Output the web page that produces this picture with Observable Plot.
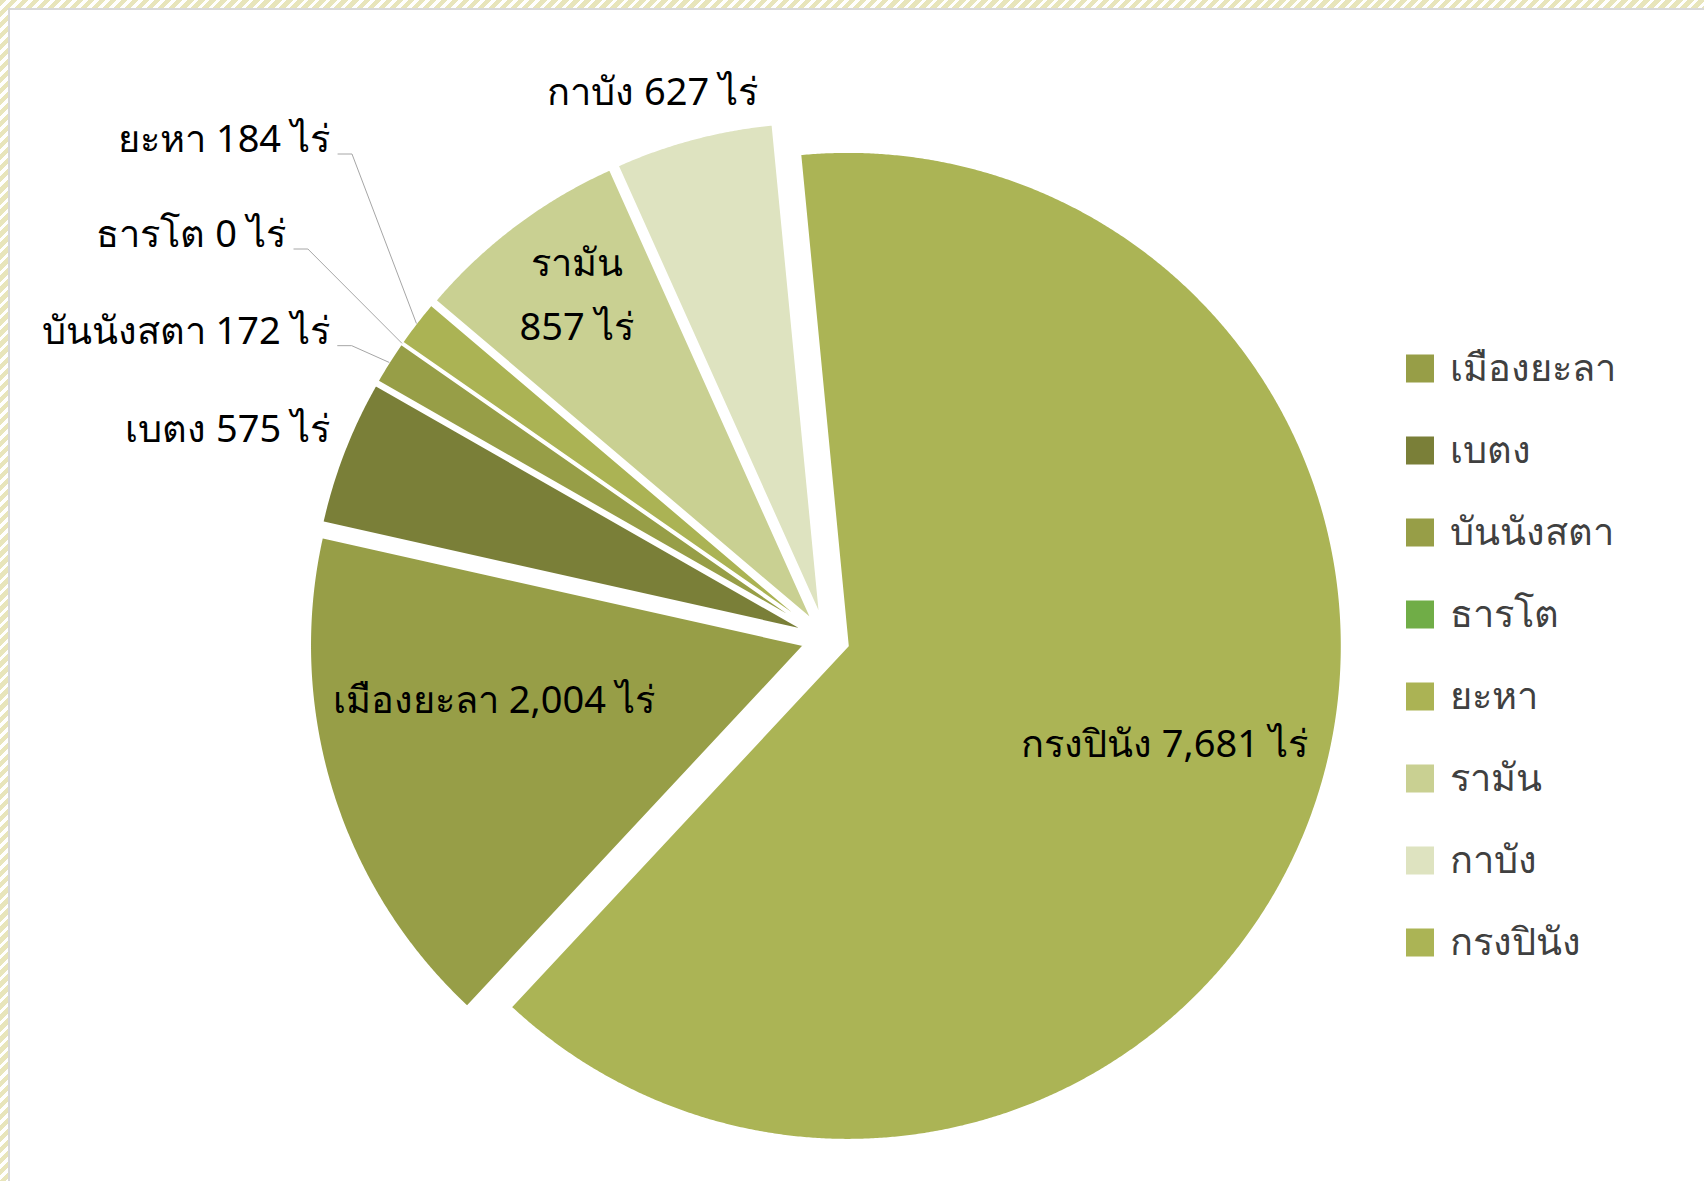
<!DOCTYPE html>
<html>
<head>
<meta charset="utf-8">
<script src="https://cdn.jsdelivr.net/npm/d3@7"></script>
<script src="https://cdn.jsdelivr.net/npm/@observablehq/plot@0.6"></script>
<style>
  html, body { margin: 0; padding: 0; background: #fff; }
  #wrap { position: relative; width: 1704px; height: 1181px; overflow: hidden; background: #fff; font-family: "Noto Sans", sans-serif; }
  #chart, #legend { position: absolute; }
  #chart { left: 0; top: 0; }
  #legend { left: 1390px; top: 325px; }
  .stripeTop { position: absolute; left: 0; top: 0; width: 1704px; height: 8px;
    background: repeating-linear-gradient(135deg, #e8e5bb 0 4.6px, #ffffff 4.6px 7.8px); }
  .stripeLeft { position: absolute; left: 0; top: 0; width: 8px; height: 1181px;
    background: repeating-linear-gradient(135deg, #e8e5bb 0 4.6px, #ffffff 4.6px 7.8px); }
  .lineTop { position: absolute; left: 8px; top: 8px; width: 1696px; height: 2px; background: #d9d9d9; }
  .lineLeft { position: absolute; left: 8px; top: 8px; width: 2px; height: 1173px; background: #d9d9d9; }
</style>
</head>
<body>
<div id="wrap">
  <div id="chart"></div>
  <div id="legend"></div>
  <div class="stripeTop"></div>
  <div class="stripeLeft"></div>
  <div class="lineTop"></div>
  <div class="lineLeft"></div>
</div>
<script>
// ---- data ----
const names = ["เมืองยะลา", "เบตง", "บันนังสตา", "ธารโต", "ยะหา", "รามัน", "กาบัง", "กรงปินัง"];
const areas = [2004, 575, 172, 0, 184, 857, 627, 7681];
const colors = ["#979e47", "#7a7f38", "#979e47", "#70ad47", "#abb354", "#c9d092", "#dee3c0", "#abb455"];
const unit = "ไร่";

// ---- layout (not data) ----
const W = 1704, H = 1181;
const CX = 825.5, CY = 638, R = 494;      // pie centre / radius in pixels
const EXPLODE = 23 / R;                   // explosion distance in radius units
const FIRST_ANGLE = 223;                  // angle of first slice (deg, clockwise from 12 o'clock)
// label placement: polar position about the pie centre (deg, radius units), anchor, leader
const labelLayout = {
  "เมืองยะลา": {angle: 261.4, r: 0.680, anchor: "middle", shift: 3.5},
  "เบตง":      {angle: 293.3, r: 1.093, anchor: "end", shift: 4.5},
  "บันนังสตา": {angle: 302.1, r: 1.186, anchor: "end", leader: true, shift: 4.5},
  "ธารโต":     {angle: 307.0, r: 1.369, anchor: "end", leader: true, shift: 3.5},
  "ยะหา":      {angle: 315.4, r: 1.430, anchor: "end", leader: true, shift: 4.5},
  "รามัน":     {angle: 324.8, r: 0.876, anchor: "middle", wrap: true, shift: 2.5},
  "กาบัง":     {angle: 342.7, r: 1.181, anchor: "middle", shift: 3.5},
  "กรงปินัง":  {angle: 105.3, r: 0.710, anchor: "middle", shift: 5.5}
};
const FONT = 38;

const rows = names.map((name, i) => ({name, value: areas[i]}));
const rad = Math.PI / 180;
const pie = d3.pie().sort(null).value(d => d.value)
  .startAngle(FIRST_ANGLE * rad).endAngle(FIRST_ANGLE * rad + 2 * Math.PI);
const arcs = pie(rows);

// slice outlines
const slicePts = [];
const arcMid = {};
for (const a of arcs) {
  const mid = (a.startAngle + a.endAngle) / 2;
  const ox = EXPLODE * Math.sin(mid), oy = EXPLODE * Math.cos(mid);
  arcMid[a.data.name] = {x: ox + Math.sin(mid), y: oy + Math.cos(mid)};
  if (a.data.value <= 0) continue;
  const n = Math.max(2, Math.ceil((a.endAngle - a.startAngle) / (Math.PI / 720)));
  slicePts.push({name: a.data.name, x: ox, y: oy});
  for (let i = 0; i <= n; i++) {
    const t = a.startAngle + (a.endAngle - a.startAngle) * i / n;
    slicePts.push({name: a.data.name, x: ox + Math.sin(t), y: oy + Math.cos(t)});
  }
}

// labels
const fmt = d3.format(",");
const labels = rows.map(d => {
  const L = labelLayout[d.name];
  const text = L.wrap ? `${d.name}\n${fmt(d.value)} ${unit}` : `${d.name} ${fmt(d.value)} ${unit}`;
  return {name: d.name, text, anchor: L.anchor, leader: L.leader,
          x: L.r * Math.sin(L.angle * rad), y: L.r * Math.cos(L.angle * rad) - L.shift / R};
});
const leaderPts = labels.filter(d => d.leader).flatMap(d => [
  {name: d.name, x: d.x + 8 / R, y: d.y - 14 / R},
  {name: d.name, x: d.x + 22 / R, y: d.y - 14 / R},
  {name: d.name, x: arcMid[d.name].x, y: arcMid[d.name].y}
]);

const colorScale = {type: "ordinal", domain: names, range: colors};

const chart = Plot.plot({
  width: W, height: H, margin: 0,
  x: {domain: [-CX / R, (W - CX) / R], axis: null},
  y: {domain: [(CY - H) / R, CY / R], axis: null},
  color: colorScale,
  style: {fontFamily: '"Noto Sans", sans-serif', background: "transparent", overflow: "visible"},
  marks: [
    Plot.line(slicePts, {x: "x", y: "y", z: "name", fill: "name", stroke: "#ffffff", strokeWidth: 2, curve: "linear-closed"}),
    Plot.line(leaderPts, {x: "x", y: "y", z: "name", stroke: "#a6a6a6", strokeWidth: 1}),
    Plot.text(labels.filter(d => d.anchor === "middle"), {x: "x", y: "y", text: "text", textAnchor: "middle", fontSize: FONT, fill: "#000000", lineHeight: 1.68}),
    Plot.text(labels.filter(d => d.anchor === "end"), {x: "x", y: "y", text: "text", textAnchor: "end", fontSize: FONT, fill: "#000000"})
  ]
});
document.getElementById("chart").appendChild(chart);

const legend = Plot.plot({
  width: 314, height: 680, margin: 0,
  x: {domain: [0, 1], range: [29.5, 300], axis: null},
  y: {type: "point", domain: names, range: [41, 41 + 7 * 82.7], padding: 0, axis: null},
  color: colorScale,
  style: {fontFamily: '"Noto Sans", sans-serif', background: "transparent"},
  marks: [
    Plot.dot(names, {x: 0, y: d => d, symbol: "square", r: 15.8, fill: d => d, stroke: null}),
    Plot.text(names, {x: 0, y: d => d, text: d => d, dx: 30, textAnchor: "start", fontSize: FONT, fill: "#404040"})
  ]
});
document.getElementById("legend").appendChild(legend);
</script>
</body>
</html>
